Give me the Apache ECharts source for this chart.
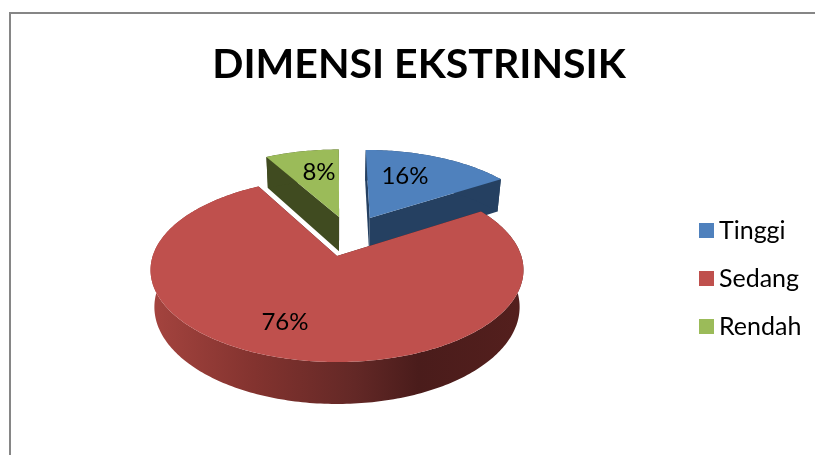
<!DOCTYPE html>
<html><head><meta charset="utf-8">
<style>html,body{margin:0;padding:0;background:#fff}#c{width:815px;height:455px}</style>
<script src="https://cdn.jsdelivr.net/npm/echarts@6/dist/echarts.min.js"></script>
</head><body><div id="c"></div>
<script>
const titleText = 'DIMENSI EKSTRINSIK';
const categories = ['Tinggi', 'Sedang', 'Rendah'];
const values = [16, 76, 8];

// styling and layout of the exploded 3D pie
const topColors = ['#4F81BD', '#BF504D', '#9BBB59'];
const wallColors = ['#254061', {type:'linear',x:150,y:0,x2:523,y2:0,global:true,colorStops:[
  {offset:0,color:'#A5443F'},{offset:0.28,color:'#83332F'},{offset:0.55,color:'#632826'},{offset:0.72,color:'#4A1C1B'},{offset:1,color:'#541F1D'}]}, '#404B20'];
const explode = [[0.19,-0.452],[0,0],[0.012,-0.464]];
const radii = [0.985,1,0.98];
const labelSpots = [[0.2365,-0.577],[-0.254,0.66],[-0.126,-0.625]];
const K = 0.152;
const topPlane = {x0:337, y0:256, b:184.3, a:89.9};
const botPlane = {x0:337, y0:292.3, b:180.5, a:94.7};
function project(p,u,v){const w=1-K*v;return [p.x0+p.b*u/w,p.y0+p.a*v/w];}

const total = values.reduce((s,v)=>s+v,0);
function sliceRange(i){
  let a=0; for(let j=0;j<i;j++) a+=values[j];
  return [a/total*360,(a+values[i])/total*360];
}
function makeRender(i){
  return function(params,api){
    const [a0,a1]=sliceRange(i);
    const [du,dv]=explode[i];
    const R=radii[i];
    const rim=[];
    for(let d=a0;d<=a1+1e-6;d+=(a1-a0)/Math.ceil(a1-a0)){
      const t=d*Math.PI/180; rim.push([du+R*Math.sin(t),dv-R*Math.cos(t)]);
    }
    const topRim=rim.map(q=>project(topPlane,q[0],q[1]));
    const botRim=rim.map(q=>project(botPlane,q[0],q[1]));
    const topApex=project(topPlane,du,dv), botApex=project(botPlane,du,dv);
    const wall=wallColors[i];
    const flat=typeof wall==='string'?wall:'#4A1C1B';
    const children=[
      {type:'polygon',shape:{points:[topApex,topRim[0],botRim[0],botApex]},style:{fill:flat}},
      {type:'polygon',shape:{points:[topApex,topRim[topRim.length-1],botRim[botRim.length-1],botApex]},style:{fill:flat}},
      {type:'polygon',shape:{points:topRim.concat(botRim.slice().reverse())},style:{fill:wall}},
      {type:'polygon',shape:{points:[topApex].concat(topRim)},style:{fill:topColors[i]}}
    ];
    const lp=project(topPlane,du+labelSpots[i][0],dv+labelSpots[i][1]);
    children.push({type:'text',x:lp[0],y:lp[1],style:{
      text:Math.round(api.value(0)/total*100)+'%',fill:'#000',font:'24px Lato',align:'center',verticalAlign:'middle'}});
    return {type:'group',children:children};
  };
}
const chart = echarts.init(document.getElementById('c'),null,{renderer:'canvas'});
chart.setOption({
  animation:false,
  backgroundColor:'#fff',
  title:{text:titleText,left:414,top:39,textAlign:'center',textStyle:{fontFamily:'Lato',fontWeight:'bold',fontSize:41,color:'#000'}},
  legend:{orient:'vertical',left:694,top:213,icon:'rect',itemWidth:15,itemHeight:15,itemGap:23,
    data:categories,selectedMode:false,textStyle:{fontFamily:'Lato',fontSize:25,color:'#000'}},
  graphic:[
    {type:'line',shape:{x1:10,y1:13,x2:815,y2:13},style:{stroke:'#868686',lineWidth:2},silent:true},
    {type:'line',shape:{x1:10,y1:12,x2:10,y2:455},style:{stroke:'#868686',lineWidth:2},silent:true}
  ],
  series:[0,2,1].map(i=>({
    type:'custom',name:categories[i],coordinateSystem:'none',silent:true,
    itemStyle:{color:topColors[i]},
    data:[[values[i]]],
    renderItem:makeRender(i)
  }))
});
</script></body></html>
